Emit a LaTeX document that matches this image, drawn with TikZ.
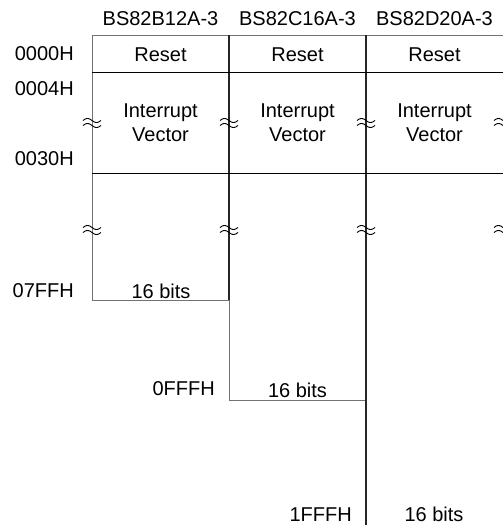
\documentclass[tikz,border=0pt]{standalone}
\usepackage{fontspec}
\setmainfont{Liberation Sans}
\begin{document}
\begin{tikzpicture}[x=1pt,y=-1pt,
  txt/.style={font=\fontsize{20}{24}\selectfont, inner sep=0pt, anchor=base},
  addr/.style={txt, anchor=base east},
  thin gray/.style={draw=black!55, line width=0.9pt},
  dark/.style={draw=black!85, line width=1.5pt},
  sep/.style={draw=black, line width=1pt},
  brk/.pic={
    \draw[black, line width=0.9pt] plot[domain=-9:9, samples=25, smooth] (\x, {-2.5+2*sin(20*\x)});
    \draw[black, line width=0.9pt] plot[domain=-9:9, samples=25, smooth] (\x, {2.5+2*sin(20*\x)});
  }]
\useasboundingbox (0,0) rectangle (503,525);
\clip (0,0) rectangle (503,525);
% grid coordinates
\coordinate (a0) at (92,35);   \coordinate (a1) at (92,300);
\coordinate (b0) at (229,35);  \coordinate (b1) at (229,300); \coordinate (b2) at (229,400);
\coordinate (c0) at (366,35);  \coordinate (c1) at (366,400); \coordinate (c2) at (366,525);
\coordinate (d0) at (503,35);
\coordinate (r0) at (92,72);   \coordinate (r1) at (503,72);
\coordinate (v0) at (92,173);  \coordinate (v1) at (503,173);
% outlines
\draw[thin gray] (a0) -- (a1) -- (b1);
\draw[thin gray] (b1) -- (b2) -- (c1);
\draw[thin gray] (a0) -- (d0);
\draw[dark] (b0) -- (b1);
\draw[dark] (c0) -- (c2);
\draw[sep] (r0) -- (r1);
\draw[sep] (v0) -- (v1);
% break marks
\foreach \xx in {92,229,366,503}{
  \pic at (\xx,123) {brk};
  \pic at (\xx,230) {brk};
}
% headers
\node[txt] (h1) at (160.5,25.5) {BS82B12A-3};
\node[txt] (h2) at (297.5,25.5) {BS82C16A-3};
\node[txt] (h3) at (434.5,25.5) {BS82D20A-3};
% reset
\node[txt] (rs1) at (160.5,61) {Reset};
\node[txt] (rs2) at (297.5,61) {Reset};
\node[txt] (rs3) at (434.5,61) {Reset};
% interrupt vector
\node[txt] (iv1a) at (160.5,117) {Interrupt};
\node[txt] (iv1b) at (160.5,141) {Vector};
\node[txt] (iv2a) at (297.5,117) {Interrupt};
\node[txt] (iv2b) at (297.5,141) {Vector};
\node[txt] (iv3a) at (434.5,117) {Interrupt};
\node[txt] (iv3b) at (434.5,141) {Vector};
% addresses
\node[addr] (ad0) at (74,60) {0000H};
\node[addr] (ad4) at (74,95) {0004H};
\node[addr] (ad30) at (74,165) {0030H};
\node[addr] (ad7) at (74,297) {07FFH};
\node[addr] (adf) at (215,395) {0FFFH};
\node[addr] (ad1f) at (352,521) {1FFFH};
% bits
\node[txt] (bt1) at (161,298) {16 bits};
\node[txt] (bt2) at (297.5,397) {16 bits};
\node[txt] (bt3) at (434,521) {16 bits};
\end{tikzpicture}
\end{document}
